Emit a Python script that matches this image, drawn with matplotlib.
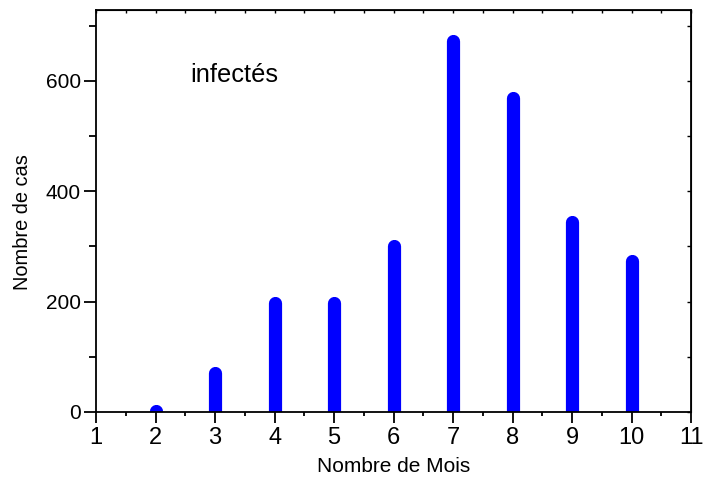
import matplotlib.pyplot as plt
import numpy as np

plt.rcParams['font.family'] = ['Liberation Sans', 'DejaVu Sans']

# nombre de cas infectés par mois
months = [2, 3, 4, 5, 6, 7, 8, 9, 10]
cases = [1, 71, 198, 197, 300, 672, 569, 345, 273]
x_ticks = list(range(1, 12))
y_ticks = [0, 200, 400, 600]

fig = plt.figure(figsize=(7.06, 4.84), dpi=100)
ax = fig.add_axes([0.136, 0.149, 0.843, 0.830])

bars = ax.vlines(months, 0, cases, colors='#0000ff', linewidth=9.5)
bars.set_capstyle('round')

ax.set_xlim(1, 11)
ax.set_ylim(0, 728)
ax.set_xticks(x_ticks)
ax.set_xticks(np.arange(1.5, 11, 1), minor=True)
ax.set_yticks(y_ticks)
ax.set_yticks([100, 300, 500, 700], minor=True)

ax.tick_params(axis='x', which='major', direction='out', length=8, width=1.3,
               labelsize=17, pad=3)
ax.tick_params(axis='x', which='minor', direction='out', length=3, width=1.3)
ax.tick_params(axis='y', which='major', direction='out', length=9, width=1.3,
               labelsize=15, pad=2)
ax.tick_params(axis='y', which='minor', direction='out', length=5, width=1.3)

for s in ax.spines.values():
    s.set_linewidth(1.3)

# petits repères intérieurs en haut et à droite
top = ax.secondary_xaxis('top')
top.set_xticks(np.arange(1, 11.01, 0.5))
top.tick_params(direction='in', length=2, width=1, labeltop=False)
right = ax.secondary_yaxis('right')
right.set_yticks(np.arange(0, 701, 100))
right.tick_params(direction='in', length=3, width=1, labelright=False)

ax.set_xlabel('Nombre de Mois', fontsize=15, labelpad=6)
ax.set_ylabel('Nombre de cas', fontsize=14.4)
ax.yaxis.set_label_coords(-0.108, 0.472)
ax.text(2.58, 610, 'infectés', fontsize=18.3, ha='left', va='center')

fig.savefig('out.png', dpi=100)
